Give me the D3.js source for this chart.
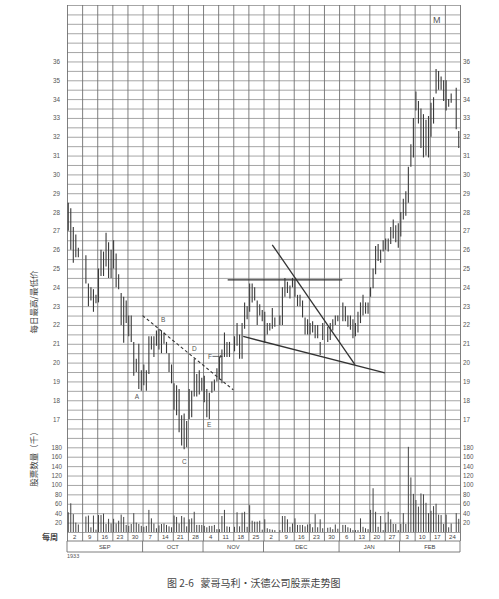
<!DOCTYPE html>
<html><head><meta charset="utf-8">
<script src="https://cdn.jsdelivr.net/npm/d3@7/dist/d3.min.js"></script>
<style>
body{margin:0;background:#fff}
.cjk{font-family:"Noto Sans CJK SC",sans-serif}
</style>
</head><body>
<svg id="c" width="499" height="599"></svg>
<script>
// ---------- data ----------
const weekLabels = ["2","9","16","23","30","7","14","21","28","4","11","18","25","2","9","16","23","30","6","13","20","27","3","10","17","24"];
const monthNames = ["SEP","OCT","NOV","DEC","JAN","FEB"];
const monthWeeks = [5,4,4,5,4,4];
const priceTicks = [17,18,19,20,21,22,23,24,25,26,27,28,29,30,31,32,33,34,35,36];
const volTicks = [20,40,60,80,100,120,140,160,180];
// six trading-day slots per week (null = no trading)
const dayHigh = [
 28.5,28.2,27.2,26.8,26.1,null,   // Sep 2
 null,25.7,24.2,24.0,23.9,23.6,   // Sep 9
 25.0,26.0,25.9,26.9,26.4,26.0,   // Sep 16
 26.5,25.8,24.7,23.7,23.5,23.3,   // Sep 23
 22.5,22.5,21.1,20.2,21.0,19.6,   // Sep 30
 19.9,19.6,21.4,21.4,21.4,21.7,   // Oct 7
 21.8,21.7,21.6,21.1,20.5,19.9,   // Oct 14
 18.9,18.8,18.6,17.2,17.3,16.9,   // Oct 21
 18.6,18.5,20.2,19.4,19.6,19.2,   // Oct 28
 19.3,18.6,18.4,19.0,19.1,19.7,   // Nov 4
 20.3,20.7,21.6,21.1,21.1,null,   // Nov 11
 21.4,22.1,21.5,22.1,23.2,23.0,   // Nov 18
 24.2,24.2,24.0,23.3,23.1,22.8,   // Nov 25
 22.7,22.1,22.1,22.9,22.4,null,   // Dec 2
 22.5,24.0,24.5,24.3,24.1,24.5,   // Dec 9
 24.4,23.6,23.6,23.3,22.4,22.3,   // Dec 16
 22.1,22.2,22.0,22.0,21.1,22.1,   // Dec 23
 null,21.9,22.1,22.3,22.5,22.5,   // Dec 30
 null,23.2,23.0,22.5,22.5,22.3,   // Jan 6
 22.1,22.7,23.2,23.6,23.2,23.2,   // Jan 13
 24.0,25.0,26.2,26.3,26.0,26.5,   // Jan 20
 26.6,26.6,27.2,27.6,27.3,27.4,   // Jan 27
 28.0,28.7,29.1,30.4,31.6,33.0,   // Feb 3
 34.4,33.9,33.5,33.2,32.9,33.1,   // Feb 10
 33.8,34.1,35.6,35.5,35.2,35.0,   // Feb 17
 35.0,34.0,34.3,null,34.6,32.3    // Feb 24
];
const dayLow = [
 27.0,26.0,25.3,25.6,25.6,null,
 null,24.2,23.0,23.3,22.7,23.15,
 23.2,24.6,24.6,25.1,24.5,24.5,
 25.0,24.0,23.9,22.0,21.05,22.1,
 21.4,21.1,19.3,19.5,18.6,18.5,
 18.8,18.5,19.4,20.7,20.3,20.9,
 20.7,20.5,21.0,20.5,19.5,18.9,
 17.5,17.2,16.3,15.6,15.4,15.5,
 17.0,17.1,18.2,18.2,18.3,18.5,
 17.9,17.1,17.0,18.4,18.5,19.0,
 19.1,18.9,20.3,20.3,20.3,null,
 20.6,20.9,20.2,20.2,21.8,22.3,
 22.7,23.2,23.3,22.0,22.5,22.2,
 21.05,21.5,21.7,21.8,21.9,null,
 22.0,22.0,23.5,23.7,23.4,24.0,
 23.5,23.0,23.0,22.4,21.5,21.5,
 21.5,21.6,21.3,21.3,20.4,21.2,
 null,21.1,21.2,21.7,22.0,22.2,
 null,22.2,22.2,21.9,21.75,21.3,
 21.4,21.6,22.1,22.5,22.6,22.6,
 23.5,23.95,24.7,25.4,25.3,25.9,
 26.0,25.9,26.3,26.6,26.4,26.1,
 26.7,27.6,27.8,28.5,30.4,30.9,
 33.4,32.7,31.4,30.9,31.0,30.9,
 32.0,32.7,34.3,34.5,34.5,33.9,
 33.4,33.6,33.8,null,32.4,31.4
];
const dayVol = [
 42,61,38,20,16,null,
 null,33,35,10,35,5,
 36,36,39,17,28,18,
 28,18,24,37,32,15,
 13,17,40,20,17,13,
 11,13,47,29,18,8,
 14,17,18,15,12,10,
 35,32,18,34,31,12,
 27,29,43,15,15,15,
 13,10,13,13,15,6,
 6,34,47,12,11,null,
 11,42,12,41,43,11,
 57,24,22,22,24,5,
 27,8,6,5,4,null,
 4,34,34,27,11,18,
 29,15,15,15,12,16,
 17,10,38,10,27,8,
 null,9,10,6,16,7,
 null,15,15,10,8,4,
 4,4,29,11,8,6,
 47,93,43,11,34,4,
 20,43,27,17,17,4,
 17,40,17,181,116,81,
 68,54,82,80,62,40,
 45,55,60,37,36,17,
 37,10,18,null,40,28
];
// annotation lines: [week1, price1, week2, price2, dashed]
const trendLines = [
 [5.0, 22.5, 11.0, 18.55, true],
 [10.63, 24.4, 18.21, 24.4, false],
 [13.58, 26.26, 19.05, 19.89, false],
 [11.66, 21.39, 21.03, 19.45, false]
];
const letterLabels = [
 ["A", 4.63, 18.2], ["B", 6.37, 22.28], ["C", 7.76, 14.74],
 ["D", 8.42, 20.74], ["E", 9.41, 16.7], ["M", 24.47, 38.2]
];

// ---------- layout ----------
const L = 67, R = 460, T = 5, B = 532, DATE_B = 541, MON_B = 552;
const FONT = "Liberation Sans, Arial, sans-serif";
const svg = d3.select("#c");
const x = d3.scaleLinear().domain([0, 26]).range([L, R]);
const y = d3.scaleLinear().domain([11, 39]).range([B, T]);
const v = d3.scaleLinear().domain([0, 1120]).range([B, T]);
const slots = 6;
const dayX = i => x(Math.floor(i / slots) + (i % slots + 0.5) / slots);

// horizontal grid
const hg = svg.append("g").attr("transform", `translate(${L},0)`)
  .call(d3.axisLeft(y).tickValues(d3.range(11, 39.01, 0.5)).tickSize(-(R - L)).tickFormat(""));
hg.select(".domain").remove();
hg.selectAll("line").attr("stroke", "#8f8f8f").attr("stroke-width", 0.8);

// vertical grid (weeks) down through date row
const vg = svg.append("g").attr("transform", `translate(0,${DATE_B})`)
  .call(d3.axisBottom(x).tickValues(d3.range(0, 27)).tickSize(-(DATE_B - T)).tickFormat(""));
vg.select(".domain").remove();
vg.selectAll("line").attr("stroke", "#707070").attr("stroke-width", 0.9);

// date row + month row borders
[DATE_B, MON_B].forEach(yy => svg.append("line").attr("x1", L).attr("x2", R)
  .attr("y1", yy).attr("y2", yy).attr("stroke", "#707070").attr("stroke-width", 0.9));
const monthStart = [];
monthWeeks.reduce((acc, n) => { monthStart.push(acc); return acc + n; }, 0);
svg.selectAll(".msep").data(monthStart.concat([26])).join("line")
  .attr("x1", d => x(d)).attr("x2", d => x(d)).attr("y1", DATE_B).attr("y2", MON_B)
  .attr("stroke", "#707070").attr("stroke-width", 0.9);

// week labels
svg.selectAll(".wl").data(weekLabels).join("text")
  .attr("x", (d, i) => x(i + 0.5)).attr("y", 539.2).attr("text-anchor", "middle")
  .attr("font-family", FONT).attr("fill", "#444").attr("font-size", 6).text(d => d);
// month labels
svg.selectAll(".ml").data(monthNames).join("text")
  .attr("x", (d, i) => x(monthStart[i] + monthWeeks[i] / 2)).attr("y", 549.3)
  .attr("text-anchor", "middle").attr("font-family", FONT).attr("fill", "#444")
  .attr("font-size", 5.8).text(d => d);
svg.append("text").attr("x", L).attr("y", 558).attr("font-family", FONT).attr("fill", "#555")
  .attr("font-size", 5.5).text("1933");

// axis labels
function tickAxis(axis, tx) {
  const g = svg.append("g").attr("transform", `translate(${tx},0)`).call(axis);
  g.select(".domain").remove();
  g.selectAll("line").remove();
  g.selectAll("text").attr("font-size", 6.3).attr("fill", "#555").attr("font-family", FONT);
}
tickAxis(d3.axisLeft(y).tickValues(priceTicks).tickSize(0).tickPadding(7), L);
tickAxis(d3.axisRight(y).tickValues(priceTicks).tickSize(0).tickPadding(3), R);
tickAxis(d3.axisLeft(v).tickValues(volTicks).tickSize(0).tickPadding(5), L);
tickAxis(d3.axisRight(v).tickValues(volTicks).tickSize(0).tickPadding(3), R);

// volume bars
svg.append("g").selectAll("line").data(dayVol.map((d, i) => [d, i]).filter(d => d[0] != null)).join("line")
  .attr("x1", d => dayX(d[1])).attr("x2", d => dayX(d[1]))
  .attr("y1", v(0)).attr("y2", d => v(d[0]))
  .attr("stroke", "#444").attr("stroke-width", 1.0);

// price bars
svg.append("g").selectAll("line").data(dayHigh.map((d, i) => [d, dayLow[i], i]).filter(d => d[0] != null)).join("line")
  .attr("x1", d => dayX(d[2])).attr("x2", d => dayX(d[2]))
  .attr("y1", d => y(d[0])).attr("y2", d => y(d[1]))
  .attr("stroke", "#3a3a3a").attr("stroke-width", 1.1);

// trend lines
svg.append("g").selectAll("line").data(trendLines).join("line")
  .attr("x1", d => x(d[0])).attr("y1", d => y(d[1]))
  .attr("x2", d => x(d[2])).attr("y2", d => y(d[3]))
  .attr("stroke", "#333").attr("stroke-width", d => d[4] ? 1.1 : 1.3)
  .attr("stroke-dasharray", d => d[4] ? "3,2.5" : null);

// letter labels
svg.selectAll(".lt").data(letterLabels).join("text")
  .attr("x", d => x(d[1])).attr("y", d => y(d[2]) + 2.5).attr("text-anchor", "middle")
  .attr("font-family", FONT).attr("font-size", d => d[0] === "M" ? 9 : 6.5)
  .attr("fill", "#555").text(d => d[0]);
// F with arrow
svg.append("text").attr("x", x(9.33)).attr("y", y(20.33) + 2.3).attr("font-family", FONT)
  .attr("font-size", 6.5).attr("fill", "#555").text("F");
svg.append("defs").append("marker").attr("id", "ar").attr("viewBox", "0 0 6 6").attr("refX", 5).attr("refY", 3)
  .attr("markerWidth", 4).attr("markerHeight", 4).attr("orient", "auto")
  .append("path").attr("d", "M0,0L6,3L0,6Z").attr("fill", "#444");
svg.append("line").attr("x1", x(9.62)).attr("x2", x(10.27)).attr("y1", y(20.33)).attr("y2", y(20.33))
  .attr("stroke", "#444").attr("stroke-width", 0.8).attr("marker-end", "url(#ar)");

// axis titles
svg.append("text").attr("class", "cjk").attr("transform", "translate(37,302) rotate(-90)")
  .attr("text-anchor", "middle").attr("font-size", 8.5).attr("fill", "#444").text("每日最高/最低价");
svg.append("text").attr("class", "cjk").attr("transform", "translate(37,457) rotate(-90)")
  .attr("text-anchor", "middle").attr("font-size", 8.5).attr("fill", "#444").text("股票数量（千）");
svg.append("text").attr("class", "cjk").attr("x", 50).attr("y", 540).attr("text-anchor", "middle")
  .attr("font-size", 8).attr("font-weight", "bold").attr("fill", "#444").text("每周");

// caption
svg.append("text").attr("class", "cjk").attr("x", 167).attr("y", 587)
  .attr("font-size", 10).attr("fill", "#444").attr("xml:space", "preserve").text("图 2-6   蒙哥马利·沃德公司股票走势图");
</script>
</body></html>
